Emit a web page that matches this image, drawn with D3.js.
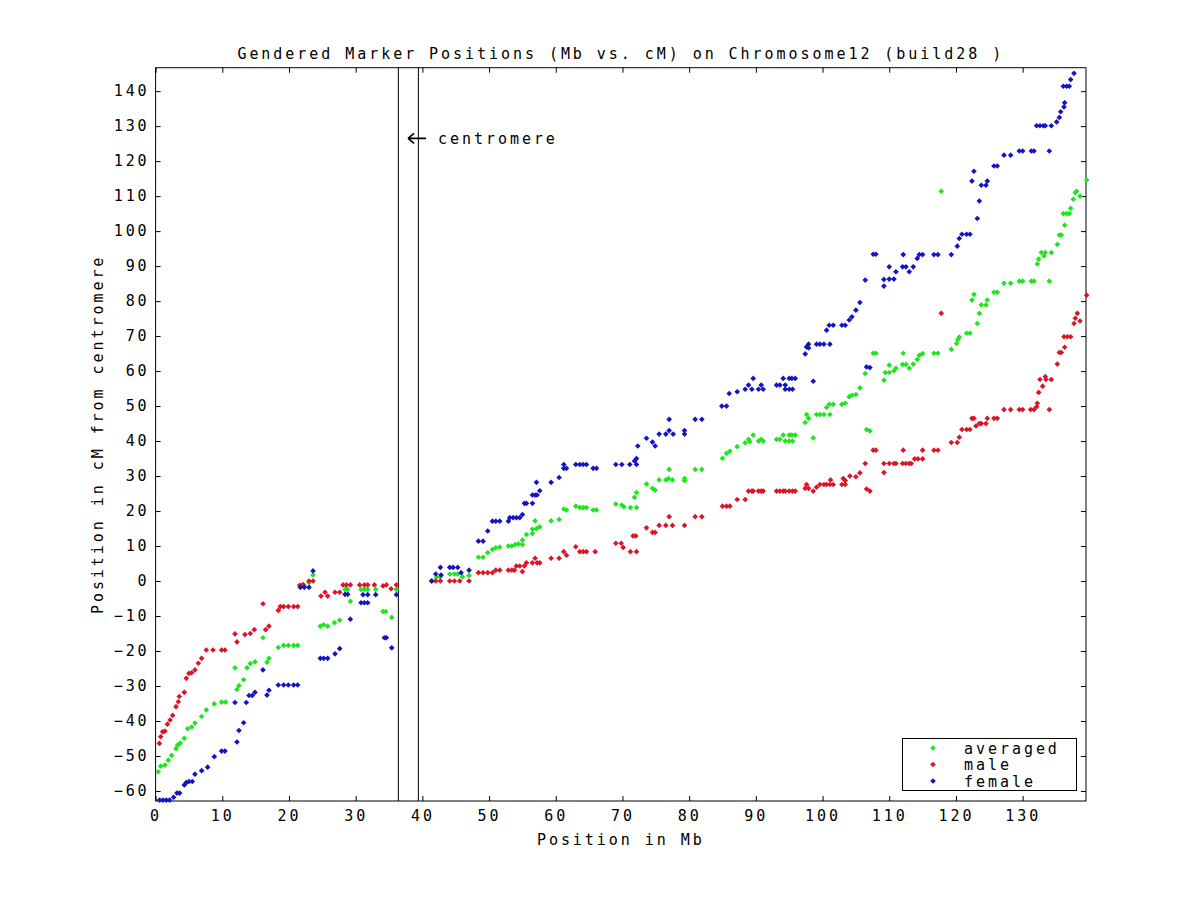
<!DOCTYPE html>
<html><head><meta charset="utf-8">
<script src="https://cdn.jsdelivr.net/npm/d3@7"></script>
<style>
html,body{margin:0;padding:0;background:#fff;}
svg text{font-family:"DejaVu Sans Mono","Liberation Mono",monospace;font-size:15px;letter-spacing:2.95px;fill:#000;}
</style></head>
<body>
<svg id="chart" width="1200" height="900"></svg>
<script>
const titleText = "Gendered Marker Positions (Mb vs. cM) on Chromosome12 (build28 )";
const xLabel = "Position in Mb";
const yLabel = "Position in cM from centromere";
const seriesNames = ["averaged", "male", "female"];
const seriesColors = ["#1ee61e", "#dc1428", "#1414c4"];
const xTicks = [0,10,20,30,40,50,60,70,80,90,100,110,120,130];
const yTicks = [-60,-50,-40,-30,-20,-10,0,10,20,30,40,50,60,70,80,90,100,110,120,130,140];
const xDomain = [0, 139.5];
const yDomain = [-62.86, 146.7];
const centromere = [36.4, 39.4];
const centromereLabelPos = [38.0, 126.5];

// [Mb, cM]
const averaged = [[0.4,-54.5],[0.76,-52.9],[1.4,-52.6],[1.9,-51.2],[2.4,-49.8],[3.06,-47.9],[3.3,-46.9],[3.7,-46.3],[4.3,-44.9],[4.8,-42.2],[5.4,-41.7],[5.9,-40.6],[6.9,-38.7],[7.6,-36.8],[8.8,-35.1],[9.9,-34.6],[10.5,-34.6],[11.9,-24.8],[12.2,-31.0],[12.5,-29.9],[13.2,-28.2],[13.7,-24.8],[14.2,-23.6],[14.9,-23.1],[16.1,-16.2],[16.7,-23.2],[17.0,-22.1],[18.4,-19.0],[19.2,-18.4],[19.9,-18.4],[20.7,-18.4],[21.3,-18.4],[21.7,-1.4],[22.3,-1.4],[23.0,-0.5],[23.6,1.7],[24.7,-12.9],[25.2,-12.5],[25.8,-12.9],[26.8,-11.9],[27.6,-11.2],[28.4,-2.4],[28.8,-2.4],[29.2,-5.8],[30.8,-2.4],[31.3,-2.4],[31.8,-2.4],[33.0,-2.4],[34.1,-8.7],[34.5,-8.7],[35.4,-10.4],[36.1,-2.4],
[41.4,0],[42.1,1.0],[42.7,1.2],[44.1,2.0],[44.8,2.0],[45.3,2.0],[46.0,1.2],[47.0,1.6],[48.4,6.8],[49.1,6.8],[49.8,8.1],[50.5,9.0],[51.0,9.5],[51.6,9.7],[52.9,10.0],[53.4,10.0],[53.9,10.4],[54.4,10.6],[55.0,11.7],[55.0,10.4],[55.6,13.3],[56.5,13.6],[56.5,14.8],[56.9,17.2],[57.1,15.0],[57.6,15.5],[59.3,17.2],[60.5,17.6],[61.2,20.6],[61.6,20.3],[63.0,21.4],[63.6,21.0],[64.1,21.0],[64.6,21.0],[65.6,20.3],[66.1,20.3],[69.0,22.0],[69.9,21.7],[70.2,21.2],[71.2,21.0],[72.1,21.0],[71.8,23.9],[72.1,25.3],[73.6,27.7],[74.5,26.5],[74.9,26.0],[75.5,28.9],[76.5,28.9],[77.0,31.9],[76.9,29.3],[77.5,28.9],[79.3,29.3],[79.3,28.7],[80.9,31.9],[81.9,31.9],
[85.0,35.1],[85.6,36.5],[86.1,37.1],[87.2,38.4],[88.4,39.5],[88.9,40.5],[89.1,39.8],[89.6,41.7],[90.4,40.0],[90.8,40.5],[91.1,40.0],[93.1,40.5],[93.6,40.5],[94.1,41.7],[94.4,40.0],[95.0,41.7],[95.4,41.7],[95.9,41.7],[95.0,40.0],[95.5,40.0],[97.4,45.3],[97.6,47.6],[97.9,46.5],[98.6,40.9],[99.1,47.6],[99.6,47.6],[100.2,47.6],[101.1,47.6],[100.6,49.6],[101.0,50.5],[101.6,50.5],[102.9,50.5],[103.4,50.8],[104.0,52.7],[104.4,53.1],[105.0,53.3],[105.6,55.2],[106.4,59.3],[106.6,43.3],[107.1,42.9],[107.6,65.1],[108.0,65.1],
[109.2,57.4],[109.4,59.6],[110.0,61.7],[110.0,59.6],[110.7,60.1],[111.0,60.8],[112.1,65.1],[112.0,61.9],[112.5,61.9],[113.0,60.8],[113.6,62.0],[114.2,63.3],[114.5,64.5],[115.0,65.0],[116.7,65.1],[117.3,65.1],[117.8,111.4],[119.3,66.2],[120.1,67.9],[120.3,69.0],[120.5,69.7],[121.6,70.8],[122.1,70.8],[122.4,80.3],[122.7,81.9],[123.2,73.6],[123.5,76.5],[123.8,78.9],[124.5,78.9],[124.7,80.3],[125.7,82.5],[126.2,82.5],[127.2,85.1],[128.2,85.1],[129.5,85.7],[130.0,85.7],[131.3,85.7],[131.7,85.7],[134.0,85.7],[132.2,90.6],[132.4,92.0],[132.8,93.9],[133.2,92.9],[133.4,93.9],[134.3,93.9],[135.2,96.2],[135.5,98.9],[135.8,98.9],[136.3,101.7],[136.1,105.0],[136.6,105.0],[137.0,105.0],[137.2,106.5],[137.6,109.1],[137.9,111.0],[138.1,111.4],[138.6,110.0],[139.6,114.6]];

const male = [[0.56,-46.4],[0.76,-44.5],[1.06,-43.1],[1.4,-42.9],[1.77,-40.9],[2.17,-39.7],[2.56,-38.4],[3.06,-35.9],[3.4,-34.5],[3.55,-33.0],[4.3,-31.8],[4.6,-27.8],[5.0,-26.4],[5.4,-26.2],[5.9,-25.4],[6.4,-23.5],[6.9,-22.1],[7.6,-19.7],[8.6,-19.7],[9.9,-19.7],[10.4,-19.7],[11.9,-15.1],[12.2,-17.4],[13.4,-15.3],[14.2,-15.0],[14.8,-13.9],[16.1,-6.5],[16.5,-13.9],[17.0,-12.9],[18.4,-8.4],[18.7,-7.3],[19.2,-7.3],[19.9,-7.3],[20.7,-7.3],[21.3,-7.3],[21.6,-1.2],[22.1,-1.0],[23.0,0],[23.6,0],[24.8,-4.3],[25.4,-3.2],[25.8,-4.3],[26.9,-3.2],[27.6,-3.2],[28.1,-1.1],[28.6,-1.1],[29.2,-1.1],[30.6,-1.1],[31.3,-1.1],[31.8,-1.1],[32.8,-1.1],[34.1,-1.4],[34.6,-1.1],[35.3,-2.2],[36.1,-1.1],
[41.4,0],[42.0,0],[42.7,0],[44.1,0],[44.8,0],[45.6,0],[47.0,0],[48.4,2.4],[49.1,2.4],[49.8,2.4],[50.5,2.4],[51.0,3.1],[51.6,3.1],[52.9,3.1],[53.4,3.1],[53.8,3.1],[54.1,4.3],[54.6,4.3],[55.0,2.7],[55.3,4.3],[55.6,5.2],[56.5,5.2],[56.9,6.5],[57.2,5.2],[57.6,5.2],[59.3,6.5],[60.5,6.5],[61.2,8.4],[61.6,7.4],[63.0,9.8],[63.6,8.4],[64.1,8.4],[64.6,8.4],[65.9,8.4],[69.0,10.8],[69.8,10.8],[70.1,9.6],[71.2,8.4],[72.1,8.4],[71.6,12.9],[72.0,12.9],[73.6,15.2],[74.5,13.9],[74.9,13.9],[75.5,15.9],[76.5,15.9],[77.0,18.4],[77.5,15.9],[79.3,15.9],[80.9,18.4],[81.9,18.4],
[85.0,21.4],[85.6,21.4],[86.1,21.4],[87.2,23.3],[88.4,23.3],[88.9,25.7],[89.4,25.7],[89.6,25.7],[90.4,25.7],[90.8,25.7],[91.1,25.7],[93.1,25.7],[93.6,25.7],[94.1,25.7],[94.4,25.7],[95.0,25.7],[95.5,25.7],[95.9,25.7],[97.4,26.5],[97.6,27.6],[97.9,26.5],[98.6,25.7],[99.1,26.8],[99.6,27.6],[100.2,27.6],[100.6,27.6],[101.1,27.6],[101.2,28.9],[101.6,27.6],[102.9,27.6],[103.1,29.3],[103.4,28.7],[103.4,27.6],[104.1,30.0],[105.0,29.8],[105.6,30.9],[106.4,33.6],[106.6,26.3],[107.1,25.7],[107.6,37.4],[108.0,37.4],
[109.2,31.0],[109.2,33.6],[110.0,33.6],[110.7,33.6],[111.0,33.6],[112.0,33.6],[112.5,33.6],[113.0,33.6],[113.3,33.6],[112.1,37.4],[113.8,34.9],[114.3,34.9],[115.0,34.9],[115.0,37.4],[116.7,37.4],[117.3,37.4],[117.8,76.5],[119.3,39.6],[120.2,39.6],[120.5,41.1],[120.9,43.3],[121.6,43.3],[122.1,43.3],[122.4,46.5],[122.7,46.5],[123.0,44.3],[123.5,45.0],[123.8,45.0],[124.5,45.0],[124.7,46.5],[125.7,46.5],[126.2,46.5],[127.2,49.0],[128.2,49.0],[129.5,49.0],[130.0,49.0],[131.2,49.0],[131.7,49.0],[132.1,49.8],[132.2,50.8],[134.0,49.0],[132.4,53.9],[132.6,57.6],[133.0,55.7],[133.4,58.4],[133.5,57.6],[134.3,57.6],[135.2,62.0],[135.5,65.3],[135.8,65.3],[136.3,66.8],[136.2,69.8],[136.7,69.8],[137.2,69.8],[137.7,73.6],[137.9,75.1],[138.2,76.5],[138.6,74.3],[139.6,81.7]];

const female = [[0.6,-62.6],[1.1,-62.6],[1.6,-62.6],[2.1,-62.6],[2.7,-61.8],[3.2,-60.6],[3.6,-60.6],[4.3,-58.3],[4.6,-57.6],[5.0,-57.3],[5.5,-57.3],[5.9,-55.2],[6.9,-54.2],[7.8,-53.2],[8.8,-50.2],[9.9,-48.6],[10.4,-48.6],[11.9,-34.7],[12.2,-46.0],[12.5,-42.7],[13.2,-40.5],[13.6,-34.7],[14.0,-32.7],[14.5,-32.7],[14.9,-31.8],[16.1,-25.4],[16.7,-32.6],[17.0,-31.2],[18.4,-29.7],[19.2,-29.7],[19.9,-29.7],[20.7,-29.7],[21.3,-29.7],[21.7,-1.8],[22.3,-1.8],[23.0,-1.8],[23.6,2.9],[24.7,-22.1],[25.2,-22.1],[25.8,-22.1],[26.9,-20.8],[27.6,-19.3],[28.4,-3.8],[28.8,-3.8],[29.2,-10.9],[30.8,-6.2],[31.3,-6.2],[31.8,-6.2],[31.1,-3.9],[31.8,-3.9],[33.0,-3.9],[34.3,-16.2],[34.6,-16.2],[35.4,-19.1],[36.1,-3.9],
[41.4,0],[42.0,2.0],[42.7,3.9],[42.8,1.7],[44.1,3.9],[44.6,3.9],[45.3,3.9],[45.8,2.4],[47.0,3.1],[48.4,11.4],[49.1,11.4],[49.8,14.3],[50.5,17.1],[51.0,17.1],[51.6,17.1],[52.9,17.1],[53.1,18.1],[53.6,18.1],[54.1,18.1],[54.6,18.1],[55.0,19.0],[55.3,22.2],[55.6,22.2],[56.5,22.2],[56.5,24.6],[56.9,24.6],[57.2,24.6],[57.6,25.8],[57.1,28.2],[59.3,28.2],[60.5,29.6],[61.2,33.3],[61.2,32.2],[61.6,32.2],[63.0,33.3],[63.6,33.3],[64.1,33.3],[64.6,33.3],[65.6,32.2],[66.1,32.2],[69.0,33.3],[69.9,33.3],[71.1,33.3],[71.8,34.3],[72.1,35.0],[72.1,33.3],[72.3,38.6],[73.6,40.8],[74.5,39.7],[74.9,38.6],[75.5,42.0],[76.5,42.0],[77.0,46.2],[77.0,43.0],[77.6,42.0],[79.3,43.0],[79.3,42.0],[80.9,46.2],[81.9,46.2],
[84.9,50.0],[85.6,50.0],[86.0,53.6],[87.2,54.1],[88.4,54.8],[88.9,56.0],[89.4,54.8],[89.6,57.9],[90.4,54.8],[90.8,56.0],[91.1,54.8],[93.1,56.0],[93.6,56.0],[94.1,57.9],[94.4,56.0],[94.4,54.8],[95.0,57.9],[95.4,57.9],[95.9,57.9],[95.0,54.8],[95.5,54.8],[97.4,64.9],[97.6,66.9],[97.9,67.7],[97.9,66.6],[98.6,57.1],[99.1,67.7],[99.6,67.7],[100.2,67.7],[101.1,67.7],[100.6,71.7],[101.0,73.1],[101.6,73.1],[102.9,73.1],[103.4,73.1],[104.0,74.6],[104.4,75.5],[105.0,77.4],[105.6,79.6],[106.4,86.0],[106.6,61.2],[107.1,61.0],[107.6,93.4],[108.0,93.4],
[109.2,84.3],[109.2,86.2],[110.0,86.3],[110.0,89.8],[110.7,86.3],[111.0,88.4],[112.1,93.3],[112.0,89.8],[112.5,89.8],[113.0,88.4],[113.6,89.8],[114.2,92.2],[114.5,93.3],[115.0,93.3],[116.7,93.3],[117.3,93.3],[119.3,93.3],[120.2,95.7],[120.5,97.9],[120.9,99.1],[121.6,99.1],[122.1,99.1],[122.4,114.3],[122.7,117.1],[123.2,103.6],[123.5,108.6],[123.8,113.1],[124.5,113.1],[124.7,114.3],[125.7,118.6],[126.2,118.6],[127.2,121.7],[128.2,121.7],[129.5,122.9],[130.0,122.9],[131.3,122.9],[131.7,122.9],[134.0,122.9],[132.1,130.1],[132.6,130.1],[133.1,130.1],[133.4,130.1],[134.3,130.1],[135.1,131.2],[135.5,132.5],[135.7,134.1],[136.2,135.5],[136.3,136.7],[136.1,141.4],[136.6,141.4],[137.0,141.4],[137.2,143.3],[137.7,145.1]];

const seriesData = [averaged, male, female];

const svg = d3.select("#chart");
const pLeft = 155.6, pRight = 1086, pTop = 67.7, pBottom = 801;
const x = d3.scaleLinear().domain(xDomain).range([pLeft, pRight]);
const y = d3.scaleLinear().domain(yDomain).range([pBottom, pTop]);

const diamond = { draw(ctx, size) { const r = Math.sqrt(size) / 2; ctx.moveTo(0, -r); ctx.lineTo(r, 0); ctx.lineTo(0, r); ctx.lineTo(-r, 0); ctx.closePath(); } };
const sym = d3.symbol().type(diamond).size(32);

// axes
const gB = svg.append("g").attr("transform", `translate(0,${pBottom})`)
  .call(d3.axisBottom(x).tickValues(xTicks).tickSize(-5).tickPadding(9).tickFormat(d3.format("d")));
const gT = svg.append("g").attr("transform", `translate(0,${pTop})`)
  .call(d3.axisTop(x).tickValues(xTicks).tickSize(-5).tickFormat(""));
const gL = svg.append("g").attr("transform", `translate(${pLeft},0)`)
  .call(d3.axisLeft(y).tickValues(yTicks).tickSize(-5).tickPadding(8).tickFormat(d3.format("d")));
const gR = svg.append("g").attr("transform", `translate(${pRight},0)`)
  .call(d3.axisRight(y).tickValues(yTicks).tickSize(-5).tickFormat(""));
[gB, gT, gL, gR].forEach(g => {
  g.select(".domain").remove();
  g.selectAll("line").attr("stroke", "#000");
  g.selectAll("text").attr("fill", "#000");
  g.attr("font-family", null).attr("font-size", null);
});
gB.selectAll("text").attr("dx", "0px");
gL.selectAll("text").attr("dx", "2px");

// frame
svg.append("rect").attr("x", pLeft).attr("y", pTop).attr("width", pRight - pLeft).attr("height", pBottom - pTop)
  .attr("fill", "none").attr("stroke", "#000").attr("stroke-width", 1);

// centromere lines
svg.selectAll(".cen").data(centromere).join("line").attr("class", "cen")
  .attr("x1", d => x(d)).attr("x2", d => x(d)).attr("y1", pTop).attr("y2", pBottom)
  .attr("stroke", "#000").attr("stroke-width", 1);
const cx0 = x(centromereLabelPos[0]), cy0 = y(centromereLabelPos[1]);
svg.append("path").attr("d", `M${cx0 - 1},${cy0} L${cx0 + 17},${cy0} M${cx0 - 1},${cy0} L${cx0 + 5},${cy0 - 5} M${cx0 - 1},${cy0} L${cx0 + 5},${cy0 + 5}`)
  .attr("stroke", "#000").attr("stroke-width", 1.6).attr("fill", "none");
svg.append("text").attr("x", cx0 + 29).attr("y", cy0 + 5.5).text("centromere");

// points
seriesData.forEach((data, i) => {
  svg.append("g").selectAll("path").data(data).join("path")
    .attr("d", sym).attr("fill", seriesColors[i])
    .attr("transform", d => `translate(${x(d[0])},${y(d[1])})`);
});

// title & labels
svg.append("text").attr("x", (pLeft + pRight) / 2).attr("y", 59).attr("text-anchor", "middle").text(titleText);
svg.append("text").attr("x", (pLeft + pRight) / 2).attr("y", 845).attr("text-anchor", "middle").text(xLabel);
svg.append("text").attr("transform", `translate(103,${(pTop + pBottom) / 2}) rotate(-90)`).attr("text-anchor", "middle").text(yLabel);

// legend
const lg = svg.append("g");
lg.append("rect").attr("x", 902.5).attr("y", 738.5).attr("width", 174).attr("height", 52)
  .attr("fill", "#fff").attr("stroke", "#000");
seriesNames.forEach((n, i) => {
  const yy = 748 + i * 16.5;
  lg.append("path").attr("d", sym).attr("fill", seriesColors[i]).attr("transform", `translate(933,${yy})`);
  lg.append("text").attr("x", 964).attr("y", yy + 5.5).text(n);
});
</script>
</body></html>
